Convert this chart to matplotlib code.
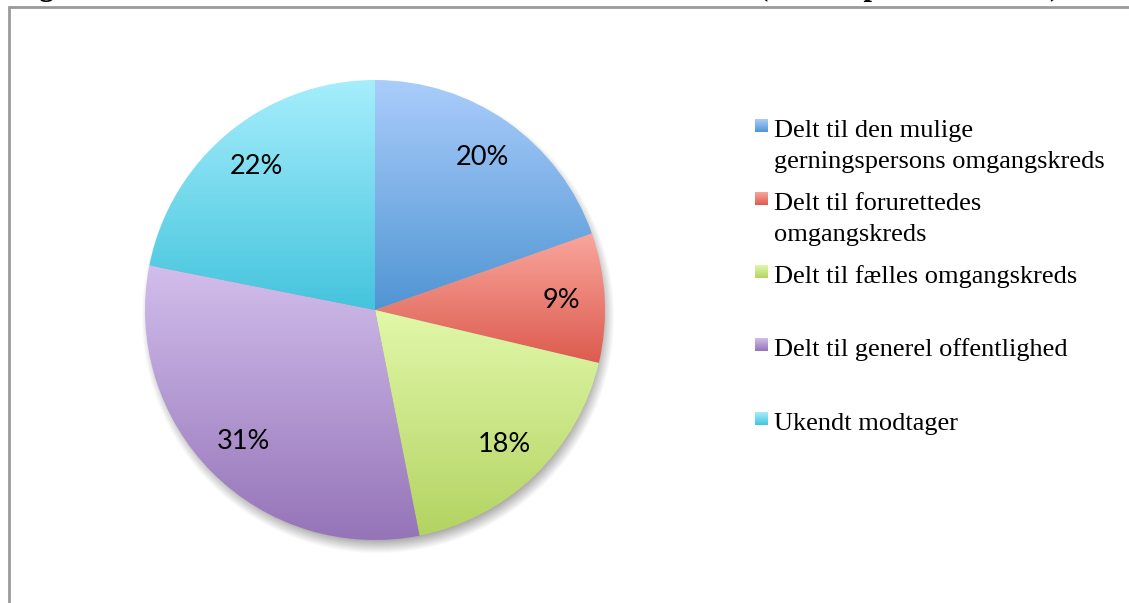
import numpy as np
import matplotlib
matplotlib.use("Agg")
import matplotlib.pyplot as plt
from matplotlib.colors import to_rgb

# ---- data ----
categories = [
    "Delt til den mulige\ngerningspersons omgangskreds",
    "Delt til forurettedes\nomgangskreds",
    "Delt til fælles omgangskreds",
    "Delt til generel offentlighed",
    "Ukendt modtager",
]
values = [19.6, 9.1, 18.2, 31.2, 21.9]
top_colors = ["#aacdfb", "#f9a69d", "#e1f8a9", "#d2beec", "#a6eefc"]
bottom_colors = ["#5095d3", "#dd5b4e", "#b3d362", "#9473b7", "#44c4dd"]
title = "Figur 5: Hvem det krænkende materiale er blevet delt til (andel i procent af alle)"

W, H = 1129, 603
fig = plt.figure(figsize=(W / 100, H / 100), dpi=100)
ax = fig.add_axes([0, 0, 1, 1])
ax.set_xlim(0, W)
ax.set_ylim(0, H)
ax.axis("off")


def grad(c1, c2, n=256):
    a, b = np.array(to_rgb(c1)), np.array(to_rgb(c2))
    t = np.linspace(0, 1, n)[:, None]
    return (a * (1 - t) + b * t)[:, None, :]


cx, cy, R = 375, H - 310, 230

# soft shadow
xs = np.linspace(cx - R - 40, cx + R + 40, 400)
ys = np.linspace(cy - R - 40, cy + R + 40, 400)
X, Y = np.meshgrid(xs, ys)
d = np.hypot(X - (cx + 3), Y - (cy - 7))
s = 7.0
alpha = np.clip((R + s - d) / (2 * s), 0, 1) * 0.5
img = np.zeros((len(ys), len(xs), 4))
img[..., :3] = 0.33
img[..., 3] = alpha
ax.imshow(img, extent=[xs[0], xs[-1], ys[0], ys[-1]], origin="lower",
          aspect="auto", zorder=1, interpolation="bilinear")

wedges, texts, autotexts = ax.pie(
    values, startangle=90, counterclock=False, center=(cx, cy), radius=R,
    frame=True, autopct="%1.0f%%", pctdistance=0.81,
    wedgeprops=dict(linewidth=0, facecolor="none"),
    textprops=dict(fontfamily="Lato", fontsize=19.5, color="black"),
)
ax.set_xlim(0, W)
ax.set_ylim(0, H)
ax.axis("off")

for w, c1, c2 in zip(wedges, top_colors, bottom_colors):
    w.set_facecolor("none")
    w.set_zorder(2)
    verts = w.get_patch_transform().transform(w.get_path().vertices)
    x0, x1 = verts[:, 0].min(), verts[:, 0].max()
    y0, y1 = verts[:, 1].min(), verts[:, 1].max()
    im = ax.imshow(grad(c1, c2), extent=[x0, x1, y0, y1], origin="upper",
                   aspect="auto", zorder=2, interpolation="bilinear")
    im.set_clip_path(w)
for t in autotexts:
    t.set_zorder(5)

# legend
sq_top = [119, 192, 265, 338, 412]
base = [137, 210, 283, 356, 430]
for i, (lab, c1, c2) in enumerate(zip(categories, top_colors, bottom_colors)):
    ytop = H - sq_top[i]
    ax.imshow(grad(c1, c2), extent=[755, 768, ytop - 13, ytop], origin="upper",
              aspect="auto", zorder=3, interpolation="bilinear")
    for j, line in enumerate(lab.split("\n")):
        ax.text(774, H - base[i] - j * 31, line, fontfamily="Liberation Serif",
                fontsize=19, va="baseline", ha="left", color="black")

# frame
ax.plot([9, 9, W + 5], [-5, H - 7, H - 7], color="#9a9a9a", lw=2,
        solid_joinstyle="miter", zorder=6, clip_on=False)

# title (cut off at top, only descenders visible)
ax.text(12, H + 4.5, title, fontfamily="Liberation Serif", fontweight="bold",
        fontsize=22, va="baseline", ha="left", color="black", clip_on=False)

fig.savefig("out.png", dpi=100)
